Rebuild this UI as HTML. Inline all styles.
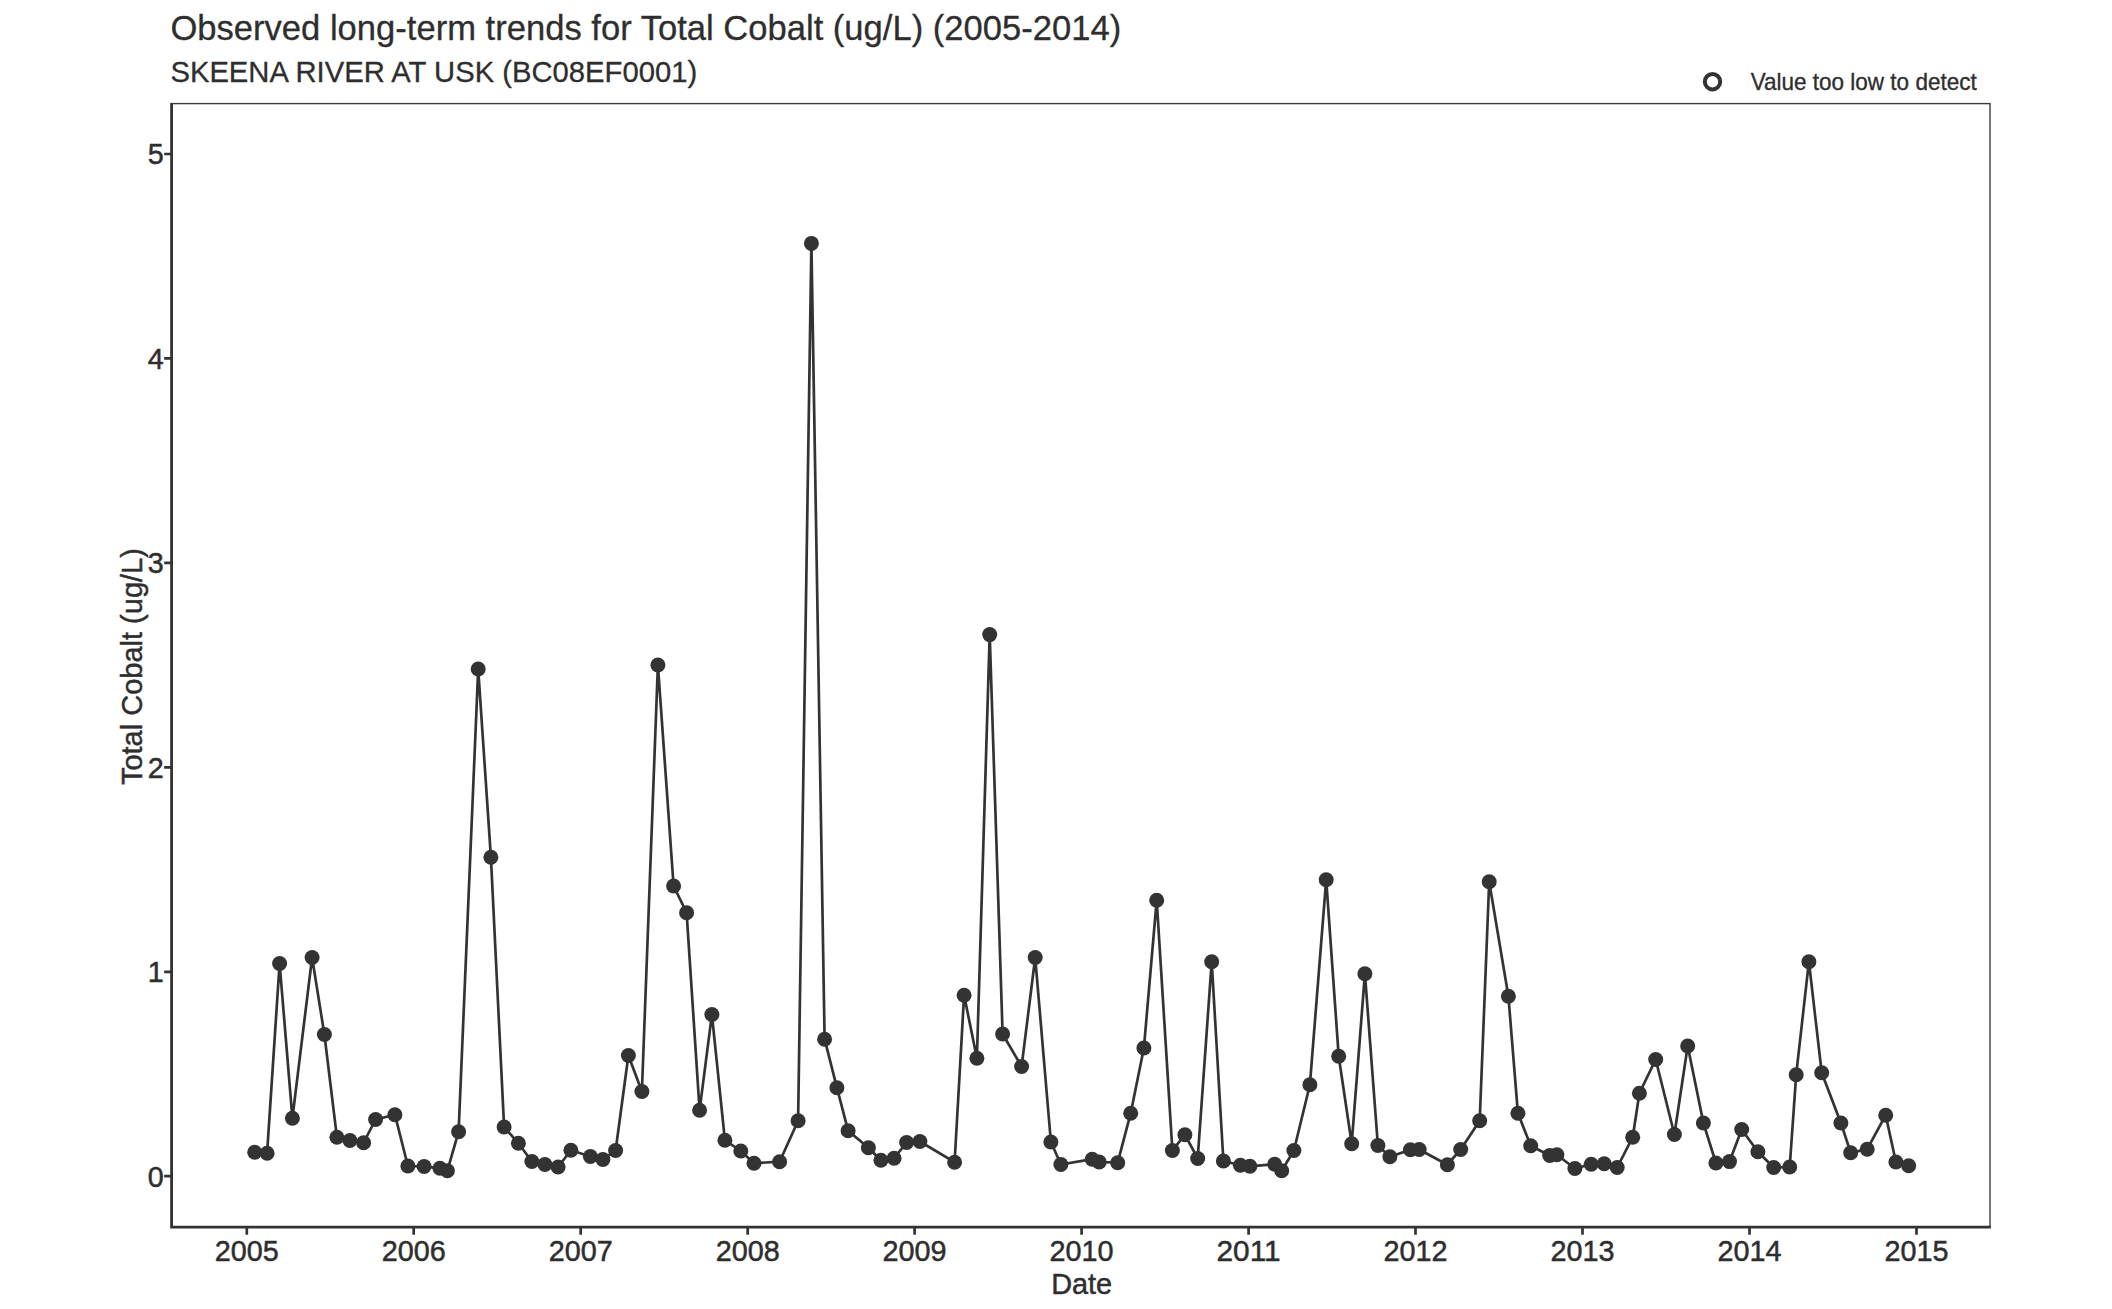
<!DOCTYPE html>
<html lang="en"><head><meta charset="utf-8"><title>Observed long-term trends for Total Cobalt</title>
<style>html,body{margin:0;padding:0;background:#fff;}svg{display:block;}text{font-family:"Liberation Sans",Arial,sans-serif;fill:#2e2e2e;stroke:#2e2e2e;stroke-width:0;stroke-linejoin:round;}</style></head><body>
<svg width="2112" height="1309" viewBox="0 0 2112 1309">
<rect width="2112" height="1309" fill="#ffffff"/>
<text x="170.4" y="40" font-size="35.2" textLength="950.8" style="stroke-width:0.3px" lengthAdjust="spacingAndGlyphs">Observed long-term trends for Total Cobalt (ug/L) (2005-2014)</text>
<text x="170.4" y="82" font-size="29.8" textLength="526.8" style="stroke-width:0.3px" lengthAdjust="spacingAndGlyphs">SKEENA RIVER AT USK (BC08EF0001)</text>
<circle cx="1712.5" cy="81.7" r="7.7" fill="none" stroke="#333333" stroke-width="4"/>
<text x="1750.7" y="89.8" font-size="23.6" textLength="226" style="stroke-width:0.35px" lengthAdjust="spacingAndGlyphs">Value too low to detect</text>
<rect x="171.6" y="103.6" width="1818.4" height="1123.5" fill="none" stroke="#3d3d3d" stroke-width="1.4"/>
<path d="M171.6 102.9V1227.05H1990.8" fill="none" stroke="#333333" stroke-width="2.8" stroke-linecap="butt" stroke-linejoin="miter"/>
<path d="M171.6 1176.2h-7.45M171.6 971.8h-7.45M171.6 767.3h-7.45M171.6 562.9h-7.45M171.6 358.4h-7.45M171.6 154.0h-7.45M246.8 1227.0v7.7M413.7 1227.0v7.7M580.7 1227.0v7.7M747.7 1227.0v7.7M914.6 1227.0v7.7M1081.6 1227.0v7.7M1248.6 1227.0v7.7M1415.5 1227.0v7.7M1582.5 1227.0v7.7M1749.5 1227.0v7.7M1916.5 1227.0v7.7" fill="none" stroke="#333333" stroke-width="2.7"/>
<text x="163.8" y="1186.6" font-size="30.2" text-anchor="end" textLength="16" style="stroke-width:0.5px" lengthAdjust="spacingAndGlyphs">0</text>
<text x="163.8" y="982.1" font-size="30.2" text-anchor="end" textLength="16" style="stroke-width:0.5px" lengthAdjust="spacingAndGlyphs">1</text>
<text x="163.8" y="777.7" font-size="30.2" text-anchor="end" textLength="16" style="stroke-width:0.5px" lengthAdjust="spacingAndGlyphs">2</text>
<text x="163.8" y="573.3" font-size="30.2" text-anchor="end" textLength="16" style="stroke-width:0.5px" lengthAdjust="spacingAndGlyphs">3</text>
<text x="163.8" y="368.8" font-size="30.2" text-anchor="end" textLength="16" style="stroke-width:0.5px" lengthAdjust="spacingAndGlyphs">4</text>
<text x="163.8" y="164.4" font-size="30.2" text-anchor="end" textLength="16" style="stroke-width:0.5px" lengthAdjust="spacingAndGlyphs">5</text>
<text x="246.8" y="1261" font-size="30.2" text-anchor="middle" textLength="64.1" style="stroke-width:0.5px" lengthAdjust="spacingAndGlyphs">2005</text>
<text x="413.7" y="1261" font-size="30.2" text-anchor="middle" textLength="64.1" style="stroke-width:0.5px" lengthAdjust="spacingAndGlyphs">2006</text>
<text x="580.7" y="1261" font-size="30.2" text-anchor="middle" textLength="64.1" style="stroke-width:0.5px" lengthAdjust="spacingAndGlyphs">2007</text>
<text x="747.7" y="1261" font-size="30.2" text-anchor="middle" textLength="64.1" style="stroke-width:0.5px" lengthAdjust="spacingAndGlyphs">2008</text>
<text x="914.6" y="1261" font-size="30.2" text-anchor="middle" textLength="64.1" style="stroke-width:0.5px" lengthAdjust="spacingAndGlyphs">2009</text>
<text x="1081.6" y="1261" font-size="30.2" text-anchor="middle" textLength="64.1" style="stroke-width:0.5px" lengthAdjust="spacingAndGlyphs">2010</text>
<text x="1248.6" y="1261" font-size="30.2" text-anchor="middle" textLength="64.1" style="stroke-width:0.5px" lengthAdjust="spacingAndGlyphs">2011</text>
<text x="1415.5" y="1261" font-size="30.2" text-anchor="middle" textLength="64.1" style="stroke-width:0.5px" lengthAdjust="spacingAndGlyphs">2012</text>
<text x="1582.5" y="1261" font-size="30.2" text-anchor="middle" textLength="64.1" style="stroke-width:0.5px" lengthAdjust="spacingAndGlyphs">2013</text>
<text x="1749.5" y="1261" font-size="30.2" text-anchor="middle" textLength="64.1" style="stroke-width:0.5px" lengthAdjust="spacingAndGlyphs">2014</text>
<text x="1916.5" y="1261" font-size="30.2" text-anchor="middle" textLength="64.1" style="stroke-width:0.5px" lengthAdjust="spacingAndGlyphs">2015</text>
<text x="1081.7" y="1293.9" font-size="30.0" text-anchor="middle" textLength="61" style="stroke-width:0.45px" lengthAdjust="spacingAndGlyphs">Date</text>
<text transform="translate(142.0,666.6) rotate(-90)" font-size="30.0" text-anchor="middle" textLength="237" style="stroke-width:0.45px" lengthAdjust="spacingAndGlyphs">Total Cobalt (ug/L)</text>
<polyline fill="none" stroke="#333333" stroke-width="2.7" stroke-linejoin="round" points="254.7,1152.2 267.1,1153.2 279.6,963.5 292.4,1118.2 312.1,957.5 324.4,1034.5 336.9,1137.2 349.9,1140.5 363.6,1142.7 375.6,1119.5 394.9,1114.7 407.9,1166.0 424.1,1166.5 439.9,1168.2 447.4,1170.7 458.6,1131.7 478.2,669.0 490.9,857.2 504.1,1127.0 518.4,1143.2 531.9,1161.5 544.9,1164.5 558.1,1167.0 570.9,1150.2 590.4,1156.5 602.9,1159.5 615.6,1150.5 628.4,1055.5 641.9,1091.5 657.9,665.0 673.6,886.0 686.6,912.7 699.6,1110.2 711.9,1014.5 724.9,1140.2 740.8,1151.0 754.0,1163.2 779.6,1161.7 798.1,1120.7 811.4,243.4 824.6,1039.2 836.9,1087.7 848.1,1130.7 868.4,1147.7 880.9,1160.2 894.1,1158.2 906.6,1142.5 919.9,1141.5 954.6,1162.2 964.1,995.2 976.9,1058.2 989.7,634.6 1002.6,1034.0 1021.6,1066.5 1035.2,957.5 1050.9,1142.0 1060.9,1164.5 1092.2,1159.2 1099.2,1162.0 1117.7,1162.7 1130.7,1113.2 1143.9,1048.0 1156.7,900.2 1172.4,1150.5 1184.9,1134.7 1197.7,1158.5 1211.7,961.7 1223.4,1161.0 1240.4,1165.2 1249.9,1166.3 1274.7,1164.2 1281.7,1170.7 1293.9,1150.5 1309.9,1084.7 1326.2,879.7 1338.7,1056.2 1351.7,1143.7 1364.9,973.7 1377.9,1145.5 1389.9,1156.7 1410.4,1149.7 1419.2,1149.5 1447.4,1164.7 1460.7,1149.5 1479.7,1120.7 1489.2,881.7 1508.4,996.2 1517.9,1113.2 1530.7,1145.7 1549.7,1155.5 1556.9,1154.7 1574.9,1168.5 1591.2,1164.2 1604.2,1163.7 1617.2,1167.5 1632.7,1137.2 1639.4,1093.2 1655.7,1059.5 1674.4,1134.5 1687.7,1046.0 1703.4,1123.0 1715.9,1163.0 1729.5,1161.6 1741.7,1129.5 1757.9,1151.7 1773.7,1167.5 1789.7,1167.0 1796.2,1074.7 1808.9,961.7 1821.7,1072.7 1840.9,1123.0 1850.7,1152.7 1867.2,1149.2 1885.7,1115.2 1895.9,1162.0 1908.7,1165.7"/>
<g fill="#333333">
<circle cx="254.7" cy="1152.2" r="7.5"/>
<circle cx="267.1" cy="1153.2" r="7.5"/>
<circle cx="279.6" cy="963.5" r="7.5"/>
<circle cx="292.4" cy="1118.2" r="7.5"/>
<circle cx="312.1" cy="957.5" r="7.5"/>
<circle cx="324.4" cy="1034.5" r="7.5"/>
<circle cx="336.9" cy="1137.2" r="7.5"/>
<circle cx="349.9" cy="1140.5" r="7.5"/>
<circle cx="363.6" cy="1142.7" r="7.5"/>
<circle cx="375.6" cy="1119.5" r="7.5"/>
<circle cx="394.9" cy="1114.7" r="7.5"/>
<circle cx="407.9" cy="1166.0" r="7.5"/>
<circle cx="424.1" cy="1166.5" r="7.5"/>
<circle cx="439.9" cy="1168.2" r="7.5"/>
<circle cx="447.4" cy="1170.7" r="7.5"/>
<circle cx="458.6" cy="1131.7" r="7.5"/>
<circle cx="478.2" cy="669.0" r="7.5"/>
<circle cx="490.9" cy="857.2" r="7.5"/>
<circle cx="504.1" cy="1127.0" r="7.5"/>
<circle cx="518.4" cy="1143.2" r="7.5"/>
<circle cx="531.9" cy="1161.5" r="7.5"/>
<circle cx="544.9" cy="1164.5" r="7.5"/>
<circle cx="558.1" cy="1167.0" r="7.5"/>
<circle cx="570.9" cy="1150.2" r="7.5"/>
<circle cx="590.4" cy="1156.5" r="7.5"/>
<circle cx="602.9" cy="1159.5" r="7.5"/>
<circle cx="615.6" cy="1150.5" r="7.5"/>
<circle cx="628.4" cy="1055.5" r="7.5"/>
<circle cx="641.9" cy="1091.5" r="7.5"/>
<circle cx="657.9" cy="665.0" r="7.5"/>
<circle cx="673.6" cy="886.0" r="7.5"/>
<circle cx="686.6" cy="912.7" r="7.5"/>
<circle cx="699.6" cy="1110.2" r="7.5"/>
<circle cx="711.9" cy="1014.5" r="7.5"/>
<circle cx="724.9" cy="1140.2" r="7.5"/>
<circle cx="740.8" cy="1151.0" r="7.5"/>
<circle cx="754.0" cy="1163.2" r="7.5"/>
<circle cx="779.6" cy="1161.7" r="7.5"/>
<circle cx="798.1" cy="1120.7" r="7.5"/>
<circle cx="811.4" cy="243.4" r="7.5"/>
<circle cx="824.6" cy="1039.2" r="7.5"/>
<circle cx="836.9" cy="1087.7" r="7.5"/>
<circle cx="848.1" cy="1130.7" r="7.5"/>
<circle cx="868.4" cy="1147.7" r="7.5"/>
<circle cx="880.9" cy="1160.2" r="7.5"/>
<circle cx="894.1" cy="1158.2" r="7.5"/>
<circle cx="906.6" cy="1142.5" r="7.5"/>
<circle cx="919.9" cy="1141.5" r="7.5"/>
<circle cx="954.6" cy="1162.2" r="7.5"/>
<circle cx="964.1" cy="995.2" r="7.5"/>
<circle cx="976.9" cy="1058.2" r="7.5"/>
<circle cx="989.7" cy="634.6" r="7.5"/>
<circle cx="1002.6" cy="1034.0" r="7.5"/>
<circle cx="1021.6" cy="1066.5" r="7.5"/>
<circle cx="1035.2" cy="957.5" r="7.5"/>
<circle cx="1050.9" cy="1142.0" r="7.5"/>
<circle cx="1060.9" cy="1164.5" r="7.5"/>
<circle cx="1092.2" cy="1159.2" r="7.5"/>
<circle cx="1099.2" cy="1162.0" r="7.5"/>
<circle cx="1117.7" cy="1162.7" r="7.5"/>
<circle cx="1130.7" cy="1113.2" r="7.5"/>
<circle cx="1143.9" cy="1048.0" r="7.5"/>
<circle cx="1156.7" cy="900.2" r="7.5"/>
<circle cx="1172.4" cy="1150.5" r="7.5"/>
<circle cx="1184.9" cy="1134.7" r="7.5"/>
<circle cx="1197.7" cy="1158.5" r="7.5"/>
<circle cx="1211.7" cy="961.7" r="7.5"/>
<circle cx="1223.4" cy="1161.0" r="7.5"/>
<circle cx="1240.4" cy="1165.2" r="7.5"/>
<circle cx="1249.9" cy="1166.3" r="7.5"/>
<circle cx="1274.7" cy="1164.2" r="7.5"/>
<circle cx="1281.7" cy="1170.7" r="7.5"/>
<circle cx="1293.9" cy="1150.5" r="7.5"/>
<circle cx="1309.9" cy="1084.7" r="7.5"/>
<circle cx="1326.2" cy="879.7" r="7.5"/>
<circle cx="1338.7" cy="1056.2" r="7.5"/>
<circle cx="1351.7" cy="1143.7" r="7.5"/>
<circle cx="1364.9" cy="973.7" r="7.5"/>
<circle cx="1377.9" cy="1145.5" r="7.5"/>
<circle cx="1389.9" cy="1156.7" r="7.5"/>
<circle cx="1410.4" cy="1149.7" r="7.5"/>
<circle cx="1419.2" cy="1149.5" r="7.5"/>
<circle cx="1447.4" cy="1164.7" r="7.5"/>
<circle cx="1460.7" cy="1149.5" r="7.5"/>
<circle cx="1479.7" cy="1120.7" r="7.5"/>
<circle cx="1489.2" cy="881.7" r="7.5"/>
<circle cx="1508.4" cy="996.2" r="7.5"/>
<circle cx="1517.9" cy="1113.2" r="7.5"/>
<circle cx="1530.7" cy="1145.7" r="7.5"/>
<circle cx="1549.7" cy="1155.5" r="7.5"/>
<circle cx="1556.9" cy="1154.7" r="7.5"/>
<circle cx="1574.9" cy="1168.5" r="7.5"/>
<circle cx="1591.2" cy="1164.2" r="7.5"/>
<circle cx="1604.2" cy="1163.7" r="7.5"/>
<circle cx="1617.2" cy="1167.5" r="7.5"/>
<circle cx="1632.7" cy="1137.2" r="7.5"/>
<circle cx="1639.4" cy="1093.2" r="7.5"/>
<circle cx="1655.7" cy="1059.5" r="7.5"/>
<circle cx="1674.4" cy="1134.5" r="7.5"/>
<circle cx="1687.7" cy="1046.0" r="7.5"/>
<circle cx="1703.4" cy="1123.0" r="7.5"/>
<circle cx="1715.9" cy="1163.0" r="7.5"/>
<circle cx="1729.5" cy="1161.6" r="7.5"/>
<circle cx="1741.7" cy="1129.5" r="7.5"/>
<circle cx="1757.9" cy="1151.7" r="7.5"/>
<circle cx="1773.7" cy="1167.5" r="7.5"/>
<circle cx="1789.7" cy="1167.0" r="7.5"/>
<circle cx="1796.2" cy="1074.7" r="7.5"/>
<circle cx="1808.9" cy="961.7" r="7.5"/>
<circle cx="1821.7" cy="1072.7" r="7.5"/>
<circle cx="1840.9" cy="1123.0" r="7.5"/>
<circle cx="1850.7" cy="1152.7" r="7.5"/>
<circle cx="1867.2" cy="1149.2" r="7.5"/>
<circle cx="1885.7" cy="1115.2" r="7.5"/>
<circle cx="1895.9" cy="1162.0" r="7.5"/>
<circle cx="1908.7" cy="1165.7" r="7.5"/>
</g>
</svg></body></html>
